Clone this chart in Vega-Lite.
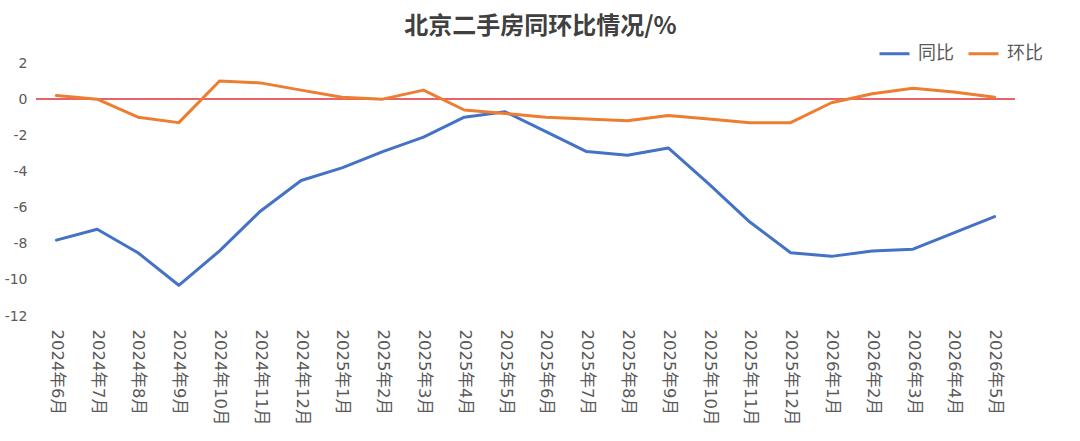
{
  "$schema": "https://vega.github.io/schema/vega-lite/v6.json",
  "description": "北京二手房同环比情况",
  "autosize": {"type": "none"},
  "padding": {"left": 36, "top": 63, "right": 65, "bottom": 125},
  "width": 979,
  "height": 253,
  "background": "#ffffff",
  "title": {
    "text": "北京二手房同环比情况/%",
    "fontSize": 24,
    "fontWeight": "bold",
    "color": "#404040",
    "anchor": "middle",
    "dx": 15,
    "offset": -2
  },
  "data": {
    "values": [
      {"month": "2024年6月", "series": "同比", "value": -7.8},
      {"month": "2024年7月", "series": "同比", "value": -7.2},
      {"month": "2024年8月", "series": "同比", "value": -8.5},
      {"month": "2024年9月", "series": "同比", "value": -10.3},
      {"month": "2024年10月", "series": "同比", "value": -8.4},
      {"month": "2024年11月", "series": "同比", "value": -6.2},
      {"month": "2024年12月", "series": "同比", "value": -4.5},
      {"month": "2025年1月", "series": "同比", "value": -3.8},
      {"month": "2025年2月", "series": "同比", "value": -2.9},
      {"month": "2025年3月", "series": "同比", "value": -2.1},
      {"month": "2025年4月", "series": "同比", "value": -1.0},
      {"month": "2025年5月", "series": "同比", "value": -0.7},
      {"month": "2025年6月", "series": "同比", "value": -1.8},
      {"month": "2025年7月", "series": "同比", "value": -2.9},
      {"month": "2025年8月", "series": "同比", "value": -3.1},
      {"month": "2025年9月", "series": "同比", "value": -2.7},
      {"month": "2025年10月", "series": "同比", "value": -4.7},
      {"month": "2025年11月", "series": "同比", "value": -6.8},
      {"month": "2025年12月", "series": "同比", "value": -8.5},
      {"month": "2026年1月", "series": "同比", "value": -8.7},
      {"month": "2026年2月", "series": "同比", "value": -8.4},
      {"month": "2026年3月", "series": "同比", "value": -8.3},
      {"month": "2026年4月", "series": "同比", "value": -7.4},
      {"month": "2026年5月", "series": "同比", "value": -6.5},
      {"month": "2024年6月", "series": "环比", "value": 0.2},
      {"month": "2024年7月", "series": "环比", "value": 0.0},
      {"month": "2024年8月", "series": "环比", "value": -1.0},
      {"month": "2024年9月", "series": "环比", "value": -1.3},
      {"month": "2024年10月", "series": "环比", "value": 1.0},
      {"month": "2024年11月", "series": "环比", "value": 0.9},
      {"month": "2024年12月", "series": "环比", "value": 0.5},
      {"month": "2025年1月", "series": "环比", "value": 0.1},
      {"month": "2025年2月", "series": "环比", "value": 0.0},
      {"month": "2025年3月", "series": "环比", "value": 0.5},
      {"month": "2025年4月", "series": "环比", "value": -0.6},
      {"month": "2025年5月", "series": "环比", "value": -0.8},
      {"month": "2025年6月", "series": "环比", "value": -1.0},
      {"month": "2025年7月", "series": "环比", "value": -1.1},
      {"month": "2025年8月", "series": "环比", "value": -1.2},
      {"month": "2025年9月", "series": "环比", "value": -0.9},
      {"month": "2025年10月", "series": "环比", "value": -1.1},
      {"month": "2025年11月", "series": "环比", "value": -1.3},
      {"month": "2025年12月", "series": "环比", "value": -1.3},
      {"month": "2026年1月", "series": "环比", "value": -0.2},
      {"month": "2026年2月", "series": "环比", "value": 0.3},
      {"month": "2026年3月", "series": "环比", "value": 0.6},
      {"month": "2026年4月", "series": "环比", "value": 0.4},
      {"month": "2026年5月", "series": "环比", "value": 0.1}
    ]
  },
  "layer": [
    {
      "mark": {"type": "rule", "color": "#E8636A", "strokeWidth": 1.2},
      "encoding": {
        "y": {
          "datum": 0,
          "type": "quantitative",
          "scale": {"domain": [-12, 2], "nice": false},
          "axis": {
            "title": null,
            "values": [-12, -10, -8, -6, -4, -2, 0, 2],
            "labelExpr": "toString(datum.value)",
            "labelOverlap": false
          }
        }
      }
    },
    {
      "mark": {"type": "line", "strokeWidth": 3, "strokeJoin": "round", "strokeCap": "round"},
      "encoding": {
        "x": {
          "field": "month",
          "type": "ordinal",
          "sort": null,
          "scale": {"type": "point", "padding": 0.5},
          "axis": {
            "title": null,
            "labelAngle": 90,
            "labelAlign": "left",
            "labelBaseline": "middle",
            "labelPadding": 13,
            "labelFont": "DejaVu Sans, Noto Sans CJK SC",
            "labelFontSize": 16.5,
            "labelColor": "#595959",
            "labelOverlap": false,
            "ticks": false,
            "domain": false,
            "grid": false
          }
        },
        "y": {
          "field": "value",
          "type": "quantitative",
          "scale": {"domain": [-12, 2], "nice": false},
          "axis": {
            "title": null,
            "values": [-12, -10, -8, -6, -4, -2, 0, 2],
            "labelExpr": "toString(datum.value)",
            "labelOverlap": false
          }
        },
        "color": {
          "field": "series",
          "type": "nominal",
          "scale": {"domain": ["同比", "环比"], "range": ["#4472C4", "#ED7D31"]},
          "legend": {
            "title": null,
            "orient": "none",
            "direction": "horizontal",
            "legendX": 842,
            "legendY": -26,
            "symbolType": "stroke",
            "symbolSize": 900,
            "symbolStrokeWidth": 3,
            "labelFontSize": 18,
            "labelColor": "#595959",
            "labelOffset": 7,
            "columnPadding": 8,
            "padding": 0
          }
        }
      }
    }
  ],
  "config": {
    "view": {"stroke": null},
    "font": "Noto Sans CJK SC",
    "axisY": {
      "labelFont": "DejaVu Sans",
      "labelFontSize": 14,
      "labelColor": "#595959",
      "labelPadding": 9,
      "labelOverlap": false,
      "ticks": false,
      "domain": false,
      "grid": false
    },
    "legend": {"labelFont": "Noto Sans CJK SC"},
    "title": {"font": "Noto Sans CJK SC"}
  }
}
